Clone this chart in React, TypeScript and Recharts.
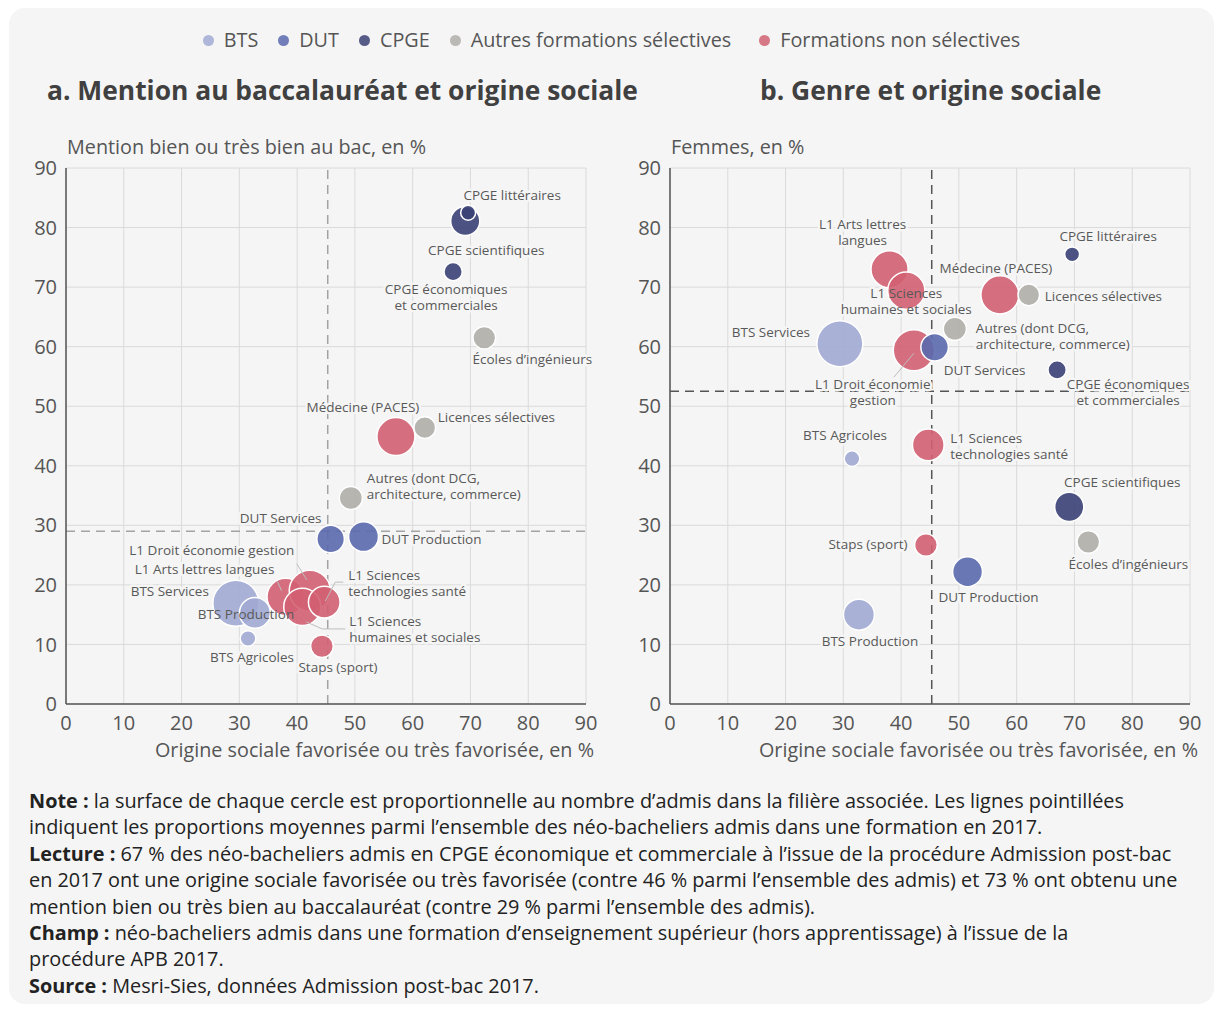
import React from "react";
import { ScatterChart, Scatter, XAxis, YAxis, ZAxis, CartesianGrid, ReferenceLine } from "recharts";

// Filières (ordre de dessin : les dernières passent au-dessus)
const filieres = [
  "L1 Arts lettres langues", "L1 Droit économie gestion", "L1 Sciences humaines et sociales",
  "L1 Sciences technologies santé", "Staps (sport)", "Médecine (PACES)",
  "Écoles d’ingénieurs", "Licences sélectives", "Autres (dont DCG, architecture, commerce)",
  "BTS Services", "BTS Production", "BTS Agricoles",
  "DUT Services", "DUT Production",
  "CPGE scientifiques", "CPGE économiques et commerciales", "CPGE littéraires",
];
const groupes = [
  "nonsel", "nonsel", "nonsel", "nonsel", "nonsel", "nonsel",
  "autres", "autres", "autres",
  "bts", "bts", "bts",
  "dut", "dut",
  "cpge", "cpge", "cpge",
];
// Origine sociale favorisée ou très favorisée, en %
const origineSociale = [38.0, 42.2, 40.9, 44.7, 44.3, 57.1, 72.4, 62.1, 49.3, 29.4, 32.7, 31.5, 45.8, 51.5, 69.1, 67.0, 69.6];
// Mention bien ou très bien au bac, en %
const mentionBienTB = [18.0, 19.0, 16.3, 17.1, 9.7, 44.9, 61.5, 46.4, 34.6, 16.9, 15.3, 11.0, 27.7, 28.1, 81.1, 72.6, 82.5];
// Femmes, en %
const femmes = [73.0, 59.4, 69.4, 43.5, 26.7, 68.7, 27.2, 68.7, 63.0, 60.5, 15.0, 41.2, 59.9, 22.2, 33.1, 56.1, 75.5];
// Nombre d'admis (milliers, estimé d'après la surface des cercles)
const admis = [62, 76, 62, 45, 23, 65, 23, 21, 24, 95, 43, 11, 34, 40, 38, 15, 10];

const moyenneOrigine = 45.3;
const moyenneMention = 29;
const moyenneFemmes = 52.5;

const ticks = [0, 10, 20, 30, 40, 50, 60, 70, 80, 90];

const legende = [
  { key: "bts", label: "BTS" },
  { key: "dut", label: "DUT" },
  { key: "cpge", label: "CPGE" },
  { key: "autres", label: "Autres formations sélectives" },
  { key: "nonsel", label: "Formations non sélectives" },
];
const couleurs: Record<string, string> = {
  bts: "#a1aad3",
  dut: "#5a69ae",
  cpge: "#3a4074",
  autres: "#afaea9",
  nonsel: "#d16172",
};
const ordreSeries = ["nonsel", "autres", "bts", "dut", "cpge"];

const FONT = "'Open Sans', sans-serif";
const BG = "#f5f5f5";

// placement des étiquettes (décalage depuis le centre du cercle)
type Lab = { dx: number; dy: number; anchor?: "start" | "middle" | "end"; lines: string[]; leader?: number[] };
const labelsA: Record<string, Lab> = {
  "CPGE littéraires": { dx: 44, dy: -17, lines: ["CPGE littéraires"] },
  "CPGE scientifiques": { dx: 21, dy: 29, lines: ["CPGE scientifiques"] },
  "CPGE économiques et commerciales": { dx: -7, dy: 18, lines: ["CPGE économiques", "et commerciales"] },
  "Écoles d’ingénieurs": { dx: 48, dy: 22, lines: ["Écoles d’ingénieurs"] },
  "Licences sélectives": { dx: 13, dy: -10, anchor: "start", lines: ["Licences sélectives"] },
  "Médecine (PACES)": { dx: -33, dy: -29, lines: ["Médecine (PACES)"] },
  "Autres (dont DCG, architecture, commerce)": { dx: 16, dy: -20, anchor: "start", lines: ["Autres (dont DCG,", "architecture, commerce)"] },
  "DUT Services": { dx: -50, dy: -21, lines: ["DUT Services"] },
  "DUT Production": { dx: 18, dy: 3, anchor: "start", lines: ["DUT Production"] },
  "L1 Droit économie gestion": { dx: -98, dy: -41, lines: ["L1 Droit économie gestion"], leader: [-13, -27, -3, -11] },
  "L1 Arts lettres langues": { dx: -81, dy: -28, lines: ["L1 Arts lettres langues"], leader: [-8, -15, -4, -6] },
  "BTS Services": { dx: -27, dy: -12, anchor: "end", lines: ["BTS Services"] },
  "BTS Production": { dx: -9, dy: 1, lines: ["BTS Production"] },
  "BTS Agricoles": { dx: 4, dy: 19, lines: ["BTS Agricoles"] },
  "Staps (sport)": { dx: 16, dy: 21, lines: ["Staps (sport)"] },
  "L1 Sciences technologies santé": { dx: 24, dy: -27, anchor: "start", lines: ["L1 Sciences", "technologies santé"], leader: [19, -20, 11, -20, 1, -1] },
  "L1 Sciences humaines et sociales": { dx: 47, dy: 14, anchor: "start", lines: ["L1 Sciences", "humaines et sociales"], leader: [4, 15, 20, 22, 43, 22] },
};
const labelsB: Record<string, Lab> = {
  "CPGE littéraires": { dx: 36, dy: -18, lines: ["CPGE littéraires"] },
  "L1 Arts lettres langues": { dx: -27, dy: -45, lines: ["L1 Arts lettres", "langues"] },
  "L1 Sciences humaines et sociales": { dx: 0, dy: 3, lines: ["L1 Sciences", "humaines et sociales"] },
  "Médecine (PACES)": { dx: -4, dy: -27, lines: ["Médecine (PACES)"] },
  "Licences sélectives": { dx: 16, dy: 1, anchor: "start", lines: ["Licences sélectives"] },
  "Autres (dont DCG, architecture, commerce)": { dx: 21, dy: -1, anchor: "start", lines: ["Autres (dont DCG,", "architecture, commerce)"] },
  "BTS Services": { dx: -69, dy: -11, lines: ["BTS Services"] },
  "L1 Droit économie gestion": { dx: -41, dy: 34, lines: ["L1 Droit économie", "gestion"], leader: [-20, 27, 0, 3] },
  "DUT Services": { dx: 50, dy: 23, lines: ["DUT Services"] },
  "CPGE économiques et commerciales": { dx: 71, dy: 14, lines: ["CPGE économiques", "et commerciales"] },
  "BTS Agricoles": { dx: -7, dy: -23, lines: ["BTS Agricoles"] },
  "L1 Sciences technologies santé": { dx: 22, dy: -7, anchor: "start", lines: ["L1 Sciences", "technologies santé"] },
  "CPGE scientifiques": { dx: 53, dy: -25, lines: ["CPGE scientifiques"] },
  "Écoles d’ingénieurs": { dx: 40, dy: 22, lines: ["Écoles d’ingénieurs"] },
  "Staps (sport)": { dx: -58, dy: -1, lines: ["Staps (sport)"] },
  "DUT Production": { dx: 21, dy: 25, lines: ["DUT Production"] },
  "BTS Production": { dx: 11, dy: 27, lines: ["BTS Production"] },
};

const Bubble = (p: any) => {
  const r = Math.sqrt((p.size ?? 64) / Math.PI);
  return <circle cx={p.cx} cy={p.cy} r={r} fill={p.fill} fillOpacity={0.9} stroke="#fff" strokeWidth={1.5} />;
};

const makeLabel = (labels: Record<string, Lab>, halo: boolean) => (p: any) => {
  const l = labels[p.payload?.name];
  if (!l || p.cx == null) return <g />;
  const x = p.cx + l.dx;
  const y0 = p.cy + l.dy;
  return (
    <g>
      {!halo && l.leader && (
        <polyline
          points={l.leader.reduce((acc: string, v, i) => acc + (i % 2 === 0 ? ` ${p.cx + v}` : `,${p.cy + v}`), "")}
          fill="none" stroke="#bdbdbd" strokeWidth={1}
        />
      )}
      {l.lines.map((t, i) => (
        <text key={i} x={x} y={y0 + i * 16} dy="0.35em" textAnchor={l.anchor ?? "middle"}
          fontSize={13.5} fontFamily={FONT}
          fill={halo ? BG : "#595959"} stroke={halo ? BG : "none"} strokeWidth={halo ? 5 : 0} strokeLinejoin="round">
          {t}
        </text>
      ))}
    </g>
  );
};

function Panel({ yValues, meanY, dashColor, labels }: { yValues: number[]; meanY: number; dashColor: string; labels: Record<string, Lab> }) {
  const rows = filieres.map((name, i) => ({ name, groupe: groupes[i], x: origineSociale[i], y: yValues[i], z: admis[i] }));
  const tickStyle = { fontSize: 20, fill: "#555", fontFamily: FONT };
  return (
    <ScatterChart width={600} height={650} margin={{ top: 48, right: 24, bottom: 36, left: 0 }}>
      <CartesianGrid stroke="#dadada" strokeWidth={1} />
      <XAxis type="number" dataKey="x" domain={[0, 90]} ticks={ticks} interval={0} height={30}
        tick={tickStyle} tickLine={false} tickMargin={6} axisLine={{ stroke: "#555", strokeWidth: 1.5 }} />
      <YAxis type="number" dataKey="y" domain={[0, 90]} ticks={ticks} interval={0} width={56}
        tick={tickStyle} tickLine={false} tickMargin={3} axisLine={{ stroke: "#555", strokeWidth: 1.5 }} />
      <ZAxis type="number" dataKey="z" domain={[0, 100]} range={[0, 1750]} />
      <ReferenceLine x={moyenneOrigine} stroke={dashColor} strokeWidth={1.5} strokeDasharray="9 6" />
      <ReferenceLine y={meanY} stroke={dashColor} strokeWidth={1.5} strokeDasharray="9 6" />
      <Scatter data={rows} shape={makeLabel(labels, true)} isAnimationActive={false} />
      {ordreSeries.map((g) => (
        <Scatter key={g} data={rows.filter((r) => r.groupe === g)} fill={couleurs[g]} shape={Bubble} isAnimationActive={false} />
      ))}
      <Scatter data={rows} shape={makeLabel(labels, false)} isAnimationActive={false} />
    </ScatterChart>
  );
}

const abs = (left: number, top: number): React.CSSProperties => ({ position: "absolute", left, top });

export default function App() {
  const titre: React.CSSProperties = { fontSize: 26.4, fontWeight: 700, color: "#404040", lineHeight: "30px", whiteSpace: "nowrap" };
  const axe: React.CSSProperties = { fontSize: 19.8, color: "#555", lineHeight: "24px", whiteSpace: "nowrap" };
  return (
    <div style={{ position: "relative", width: 1207, height: 996, fontFamily: FONT }}>
      <div style={{ ...abs(1, 0), width: 1205, height: 996, background: BG, borderRadius: 16 }} />
      <div style={{ ...abs(0, 20), width: 1207, display: "flex", justifyContent: "center", gap: 20, fontSize: 19.8, color: "#555", lineHeight: "24px" }}>
        {legende.map((l, i) => (
          <span key={l.key} style={{ display: "flex", alignItems: "center", marginLeft: i === 4 ? 8 : 0 }}>
            <span style={{ width: 11, height: 11, borderRadius: 6, background: couleurs[l.key], opacity: 0.85, marginRight: 10 }} />
            {l.label}
          </span>
        ))}
      </div>
      <div style={{ ...abs(39, 67), ...titre }}>a. Mention au baccalauréat et origine sociale</div>
      <div style={{ ...abs(752, 67), ...titre }}>b. Genre et origine sociale</div>
      <div style={{ ...abs(59, 127), ...axe }}>Mention bien ou très bien au bac, en %</div>
      <div style={{ ...abs(663, 127), ...axe }}>Femmes, en %</div>
      <div style={abs(2, 112)}>
        <Panel yValues={mentionBienTB} meanY={moyenneMention} dashColor="#a3a3a3" labels={labelsA} />
      </div>
      <div style={abs(606, 112)}>
        <Panel yValues={femmes} meanY={moyenneFemmes} dashColor="#555" labels={labelsB} />
      </div>
      <div style={{ ...abs(0, 730), width: 586, textAlign: "right", ...axe }}>Origine sociale favorisée ou très favorisée, en %</div>
      <div style={{ ...abs(600, 730), width: 590, textAlign: "right", ...axe }}>Origine sociale favorisée ou très favorisée, en %</div>
      <div style={{ ...abs(21, 780), fontSize: 19.85, lineHeight: "26.4px", color: "#222", whiteSpace: "nowrap" }}>
        <b>Note :</b> la surface de chaque cercle est proportionnelle au nombre d’admis dans la filière associée. Les lignes pointillées<br />
        indiquent les proportions moyennes parmi l’ensemble des néo-bacheliers admis dans une formation en 2017.<br />
        <b>Lecture :</b> 67 % des néo-bacheliers admis en CPGE économique et commerciale à l’issue de la procédure Admission post-bac<br />
        en 2017 ont une origine sociale favorisée ou très favorisée (contre 46 % parmi l’ensemble des admis) et 73 % ont obtenu une<br />
        mention bien ou très bien au baccalauréat (contre 29 % parmi l’ensemble des admis).<br />
        <b>Champ :</b> néo-bacheliers admis dans une formation d’enseignement supérieur (hors apprentissage) à l’issue de la<br />
        procédure APB 2017.<br />
        <b>Source :</b> Mesri-Sies, données Admission post-bac 2017.
      </div>
    </div>
  );
}
